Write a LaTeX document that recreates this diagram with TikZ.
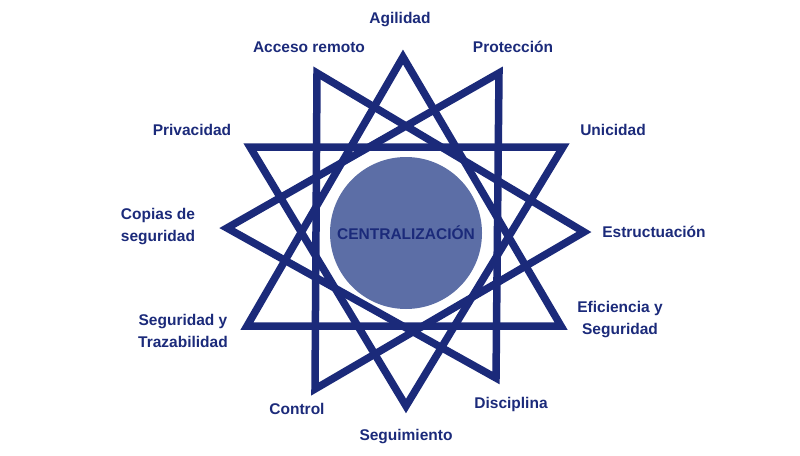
\documentclass[tikz,border=0pt]{standalone}
\usepackage{fontspec}
\setmainfont{Liberation Sans}
\usetikzlibrary{positioning, calc}
\definecolor{navy}{RGB}{27,42,122}
\definecolor{hub}{RGB}{92,110,166}
\begin{document}
\begin{tikzpicture}[x=1pt, y=-1pt,
  label/.style={text=navy, font=\fontsize{15.5}{22}\selectfont\bfseries, align=center},
  tri/.style={draw=navy, line width=7.5pt, line join=miter}]
  \useasboundingbox (0,0) rectangle (800,455);
  %star points, counter-clockwise from the top
  \coordinate (p0) at (403,57);
  \coordinate (p1) at (317,73);
  \coordinate (p2) at (250,147);
  \coordinate (p3) at (227,228);
  \coordinate (p4) at (247,326);
  \coordinate (p5) at (315,389);
  \coordinate (p6) at (406,406);
  \coordinate (p7) at (496,378);
  \coordinate (p8) at (561,326);
  \coordinate (p9) at (584,232);
  \coordinate (p10) at (563,147);
  \coordinate (p11) at (499,73);
  %four triangles
  \foreach \i in {0,1,2,3}{
    \pgfmathtruncatemacro{\j}{\i+4}
    \pgfmathtruncatemacro{\k}{\i+8}
    \draw[tri] (p\i) -- (p\j) -- (p\k) -- cycle;
  }
  %centre circle
  \node[circle, fill=hub, minimum size=152pt, text=navy, font=\fontsize{15.5}{18}\selectfont\bfseries] (hub) at (406,233) {CENTRALIZACIÓN};
  %labels
  \node[label] (agil) at (400,20) {Agilidad};
  \node[label] (acceso) at (309,47) {Acceso remoto};
  \node[label] (prot) at (513,47) {Protección};
  \node[label] (priv) at (192,130) {Privacidad};
  \node[label] (unic) at (613,130) {Unicidad};
  \node[label] (copias) at (158,227) {Copias de\\seguridad};
  \node[label] (estr) at (654,232) {Estructuación};
  \node[label] (efic) at (620,320) {Eficiencia y\\Seguridad};
  \node[label] (traz) at (183,331) {Seguridad y\\Trazabilidad};
  \node[label] (ctrl) at (297,409) {Control};
  \node[label] (disc) at (511,404) {Disciplina};
  \node[label] (seg) at (406,437) {Seguimiento};
\end{tikzpicture}
\end{document}
